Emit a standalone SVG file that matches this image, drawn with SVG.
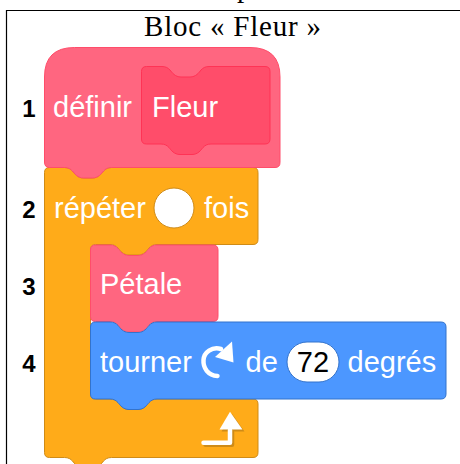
<svg xmlns="http://www.w3.org/2000/svg" width="460" height="464" viewBox="0 0 460 464">
<style>
.t{font-family:"Liberation Sans",Arial,sans-serif;font-size:29px;fill:#fff}
.n{font-family:"Liberation Sans",Arial,sans-serif;font-size:24px;font-weight:700;fill:#000;text-anchor:middle}
.s{font-family:"Liberation Serif","Times New Roman",serif;fill:#000;font-size:29px}
.pink{fill:#FF6680;stroke:#FF4D6A;stroke-width:1}
.pinkd{fill:#FF4D6A;stroke:#FF3355;stroke-width:1}
.or{fill:#FFAB19;stroke:#CF8B17;stroke-width:1}
.bl{fill:#4C97FF;stroke:#3373CC;stroke-width:1}
.ic{fill:none;stroke-width:4.500;stroke-linecap:round;stroke-linejoin:round}
</style>
<rect width="460" height="464" fill="#fff"/>
<text class="s" x="237" y="-3.500">p</text>
<path d="M460,10.500H6.500V464" fill="none" stroke="#000" stroke-width="1.200"/>
<text class="s" x="144" y="36" textLength="177">Bloc « Fleur »</text>
<g id="connectors"/>
<g id="repeat">
<path class="or" d="M44.500,172.500Q44.500,167.500 49.500,167.500H64.500c4,0 6,1.500 8,3.500c2,2.500 5,7 11,7h9c6,0 9,-4.500 11,-7c2,-2 4,-3.500 8,-3.500H253Q258,167.500 258,172.500V239.500Q258,244.500 253,244.500H157c-4,0 -6,1.500 -8,3.500c-2,2.500 -5,7 -11,7h-9c-6,0 -9,-4.500 -11,-7c-2,-2 -4,-3.500 -8,-3.500H95.500Q90.500,244.500 90.500,249.500V394Q90.500,399 95.500,399H110c4,0 6,1.500 8,3.500c2,2.500 5,7 11,7h9c6,0 9,-4.500 11,-7c2,-2 4,-3.500 8,-3.500H253Q258,399 258,404V452.500Q258,457.500 253,457.500H111.500c-4,0 -6,1.500 -8,3.500c-2,2.500 -5,7 -11,7h-9c-6,0 -9,-4.500 -11,-7c-2,-2 -4,-3.500 -8,-3.500H49.500Q44.500,457.500 44.500,452.500Z"/>
<text class="t" x="54" y="218">répéter</text>
<circle cx="174" cy="208" r="20" fill="#fff" stroke="#CF8B17"/>
<text class="t" x="204" y="218">fois</text>
<path class="ic" stroke="#CF8B17" d="M205.500,444.700H232V432"/>
<path fill="#CF8B17" d="M232,413.700L244.500,431.500H221.500Z"/>
<path class="ic" stroke="#fff" d="M203.500,442.700H230V430"/>
<path fill="#fff" d="M230,411.700L242.500,429.500H219.500Z"/>
</g>
<g id="petale">
<path class="pink" d="M90.500,250Q90.500,245 95.500,245H110c4,0 6,1.500 8,3.500c2,2.500 5,7 11,7h9c6,0 9,-4.500 11,-7c2,-2 4,-3.500 8,-3.500H213Q218,245 218,250V316.500Q218,321.500 213,321.500H157c-4,0 -6,1.500 -8,3.500c-2,2.500 -5,7 -11,7h-9c-6,0 -9,-4.500 -11,-7c-2,-2 -4,-3.500 -8,-3.500H95.500Q90.500,321.500 90.500,316.500Z"/>
<text class="t" x="100" y="294">Pétale</text>
</g>
<g id="tourner">
<path class="bl" d="M90.500,327Q90.500,322 95.500,322H110c4,0 6,1.500 8,3.500c2,2.500 5,7 11,7h9c6,0 9,-4.500 11,-7c2,-2 4,-3.500 8,-3.500H441Q446,322 446,327V394Q446,399 441,399H157c-4,0 -6,1.500 -8,3.500c-2,2.500 -5,7 -11,7h-9c-6,0 -9,-4.500 -11,-7c-2,-2 -4,-3.500 -8,-3.500H95.500Q90.500,399 90.500,394Z"/>
<text class="t" x="100" y="372">tourner</text>
<path class="ic" stroke="#fff" d="M217.500,376C208,375.500 203,368 203.500,360C204,352 212,346.500 221,349"/>
<path fill="#fff" d="M232,341.500L233.500,362.500L215,357Z"/>
<text class="t" x="245.500" y="372">de</text>
<rect x="287" y="342" width="52" height="40" rx="20" fill="#fff" stroke="#3373CC"/>
<text class="t" x="313" y="372" style="fill:#000;text-anchor:middle">72</text>
<text class="t" x="347.500" y="372">degrés</text>
</g>
<g id="definir">
<path class="pink" d="M44.500,162V77Q44.500,47.500 74.500,47.500H250Q280,47.500 280,77V162.500Q280,167.500 275,167.500H111.500c-4,0 -6,1.500 -8,3.500c-2,2.500 -5,7 -11,7h-9c-6,0 -9,-4.500 -11,-7c-2,-2 -4,-3.500 -8,-3.500H49.500Q44.500,167.500 44.500,162Z"/>
<text class="t" x="53" y="117">définir</text>
<path class="pinkd" d="M141.500,71.500Q141.500,66.500 146.500,66.500H162c4,0 6,1.500 8,3.500c2,2.500 5,7 11,7h9c6,0 9,-4.500 11,-7c2,-2 4,-3.500 8,-3.500H265Q270,66.500 270,71.500V139Q270,144 265,144H211c-4,0 -6,1.500 -8,3.500c-2,2.500 -5,7 -11,7h-12c-6,0 -9,-4.500 -11,-7c-2,-2 -4,-3.500 -8,-3.500H146.500Q141.500,144 141.500,139Z"/>
<text class="t" x="152" y="117">Fleur</text>
</g>
<g id="numero-1"><text class="n" x="29" y="117">1</text></g>
<g id="numero-2"><text class="n" x="29" y="218">2</text></g>
<g id="numero-3"><text class="n" x="29" y="295">3</text></g>
<g id="numero-4"><text class="n" x="29" y="372">4</text></g>
</svg>
